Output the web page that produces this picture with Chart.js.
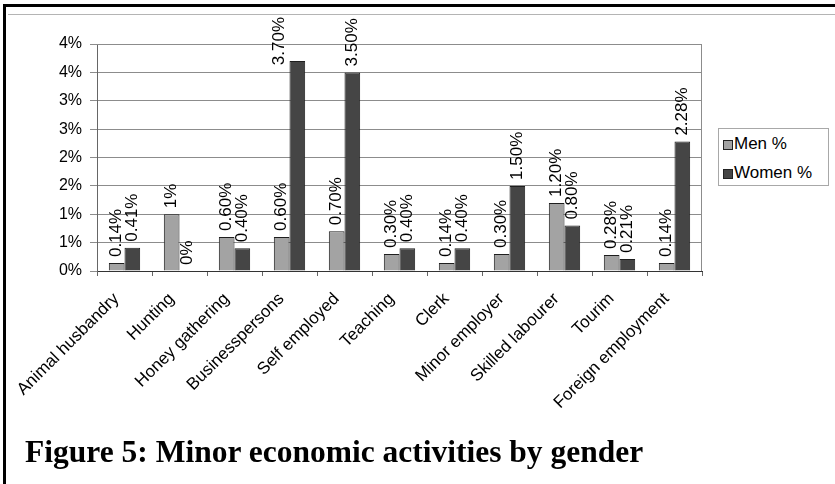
<!DOCTYPE html>
<html>
<head>
<meta charset="utf-8">
<script src="https://cdn.jsdelivr.net/npm/chart.js@4/dist/chart.umd.min.js"></script>
<style>
  html, body { margin: 0; padding: 0; background: #fff; }
  #wrap { position: relative; width: 835px; height: 484px; overflow: hidden; background: #fff; }
  #chart { position: absolute; left: 0; top: 0; }
  .frame { position: absolute; left: 3px; top: 4px; width: 900px; height: 600px;
           border-left: 3px solid #000; border-top: 3px solid #000; }
  .areaLine { position: absolute; left: 8px; top: 14px; width: 830px; height: 1px; background: #b4b4b4; }
  .legend { position: absolute; left: 718px; top: 128px; width: 111px; height: 58px;
            border: 1px solid #a8a8a8; background: #fff; box-sizing: border-box; }
  .sw { position: absolute; width: 8px; height: 8px; border: 1px solid #222; }
  .lt { position: absolute; font: 17px "Liberation Sans", Arial, sans-serif; line-height: 1; color: #000; white-space: nowrap; }
  .caption { position: absolute; left: 25px; top: 436px; font: bold 31.5px "Liberation Serif", "Times New Roman", serif;
             line-height: 1; color: #000; white-space: nowrap; }
</style>
</head>
<body>
<div id="wrap">
  <canvas id="chart" width="835" height="484"></canvas>
  <div class="frame"></div>
  <div class="areaLine"></div>
  <div class="legend"></div>
  <div class="sw" style="left:723px; top:140px; background:#a3a3a3;"></div>
  <div class="lt" style="left:734px; top:135px;">Men %</div>
  <div class="sw" style="left:723px; top:169px; background:#454545;"></div>
  <div class="lt" style="left:734px; top:164px;">Women %</div>
  <div class="caption">Figure 5: Minor economic activities by gender</div>
</div>
<script>
// Activities surveyed
const categories = [
  'Animal husbandry', 'Hunting', 'Honey gathering', 'Businesspersons',
  'Self employed', 'Teaching', 'Clerk', 'Minor employer',
  'Skilled labourer', 'Tourim', 'Foreign employment'
];

// Share of respondents (%) engaged in each activity
const menPct   = [0.14, 1, 0.60, 0.60, 0.70, 0.30, 0.14, 0.30, 1.20, 0.28, 0.14];
const womenPct = [0.41, 0, 0.40, 3.70, 3.50, 0.40, 0.40, 1.50, 0.80, 0.21, 2.28];

// Value-axis labels (0 to 4 in half steps, shown rounded to whole percent)
const yTickLabels = ['0%', '1%', '1%', '2%', '2%', '3%', '3%', '4%', '4%'];

const sansFont = '"Liberation Sans", Arial, sans-serif';

function pctLabel(v) {
  return Number.isInteger(v) ? v + '%' : v.toFixed(2) + '%';
}

// Vertical value labels above each bar; a label that would run past the
// top of the drawing area is pushed down and set beside its bar instead.
const valueLabels = {
  id: 'valueLabels',
  afterDatasetsDraw(chart) {
    const ctx = chart.ctx;
    const topLimit = 17;
    ctx.save();
    ctx.font = '17px ' + sansFont;
    ctx.fillStyle = '#000';
    ctx.textAlign = 'left';
    ctx.textBaseline = 'middle';
    chart.data.datasets.forEach((ds, di) => {
      chart.getDatasetMeta(di).data.forEach((bar, i) => {
        const text = pctLabel(ds.data[i]);
        const len = ctx.measureText(text).width;
        let x = bar.x, y = bar.y - 6;
        if (y - len < topLimit) {
          y = topLimit + len;
          x -= bar.width + 2;
        }
        ctx.save();
        ctx.translate(x, y);
        ctx.rotate(-Math.PI / 2);
        ctx.fillText(text, 0, 0);
        ctx.restore();
      });
    });
    ctx.restore();
  }
};

// Thin frame around the plot area
const plotFrame = {
  id: 'plotFrame',
  beforeDatasetsDraw(chart) {
    const a = chart.chartArea, ctx = chart.ctx;
    ctx.save();
    ctx.strokeStyle = '#8c8c8c';
    ctx.lineWidth = 1;
    ctx.beginPath();
    ctx.moveTo(a.left, a.top + 0.5);
    ctx.lineTo(a.right - 0.5, a.top + 0.5);
    ctx.lineTo(a.right - 0.5, a.bottom);
    ctx.stroke();
    ctx.restore();
  }
};

new Chart(document.getElementById('chart'), {
  type: 'bar',
  data: {
    labels: categories,
    datasets: [
      { label: 'Men %', data: menPct, backgroundColor: '#a3a3a3', borderColor: '#1e1e1e', borderWidth: 1 },
      { label: 'Women %', data: womenPct, backgroundColor: '#454545', borderColor: '#1e1e1e', borderWidth: 1 }
    ]
  },
  options: {
    responsive: false,
    animation: false,
    devicePixelRatio: 1,
    layout: { padding: { left: 0, top: 44, right: 133, bottom: 43 } },
    datasets: { bar: { categoryPercentage: 0.57, barPercentage: 1.0 } },
    plugins: { legend: { display: false }, tooltip: { enabled: false } },
    scales: {
      x: {
        grid: { drawOnChartArea: false, drawTicks: true, tickLength: 5, color: '#666' },
        border: { display: true, color: '#333', width: 1 },
        ticks: {
          minRotation: 45, maxRotation: 45, autoSkip: false, padding: 13, labelOffset: -8,
          color: '#000', font: { family: sansFont, size: 17 }
        },
        afterFit(s) { s.height = 170; s.paddingLeft = 0; s.paddingRight = 0; }
      },
      y: {
        min: 0, max: 4,
        grid: { color: '#8c8c8c', tickLength: 7, drawTicks: true },
        border: { display: true, color: '#666', width: 1 },
        ticks: {
          stepSize: 0.5, padding: 8, color: '#000',
          font: { family: sansFont, size: 16 },
          callback: (v, i) => yTickLabels[i]
        },
        afterFit(s) { s.width = 97; s.paddingTop = 0; s.paddingBottom = 0; }
      }
    }
  },
  plugins: [plotFrame, valueLabels]
});
</script>
</body>
</html>
